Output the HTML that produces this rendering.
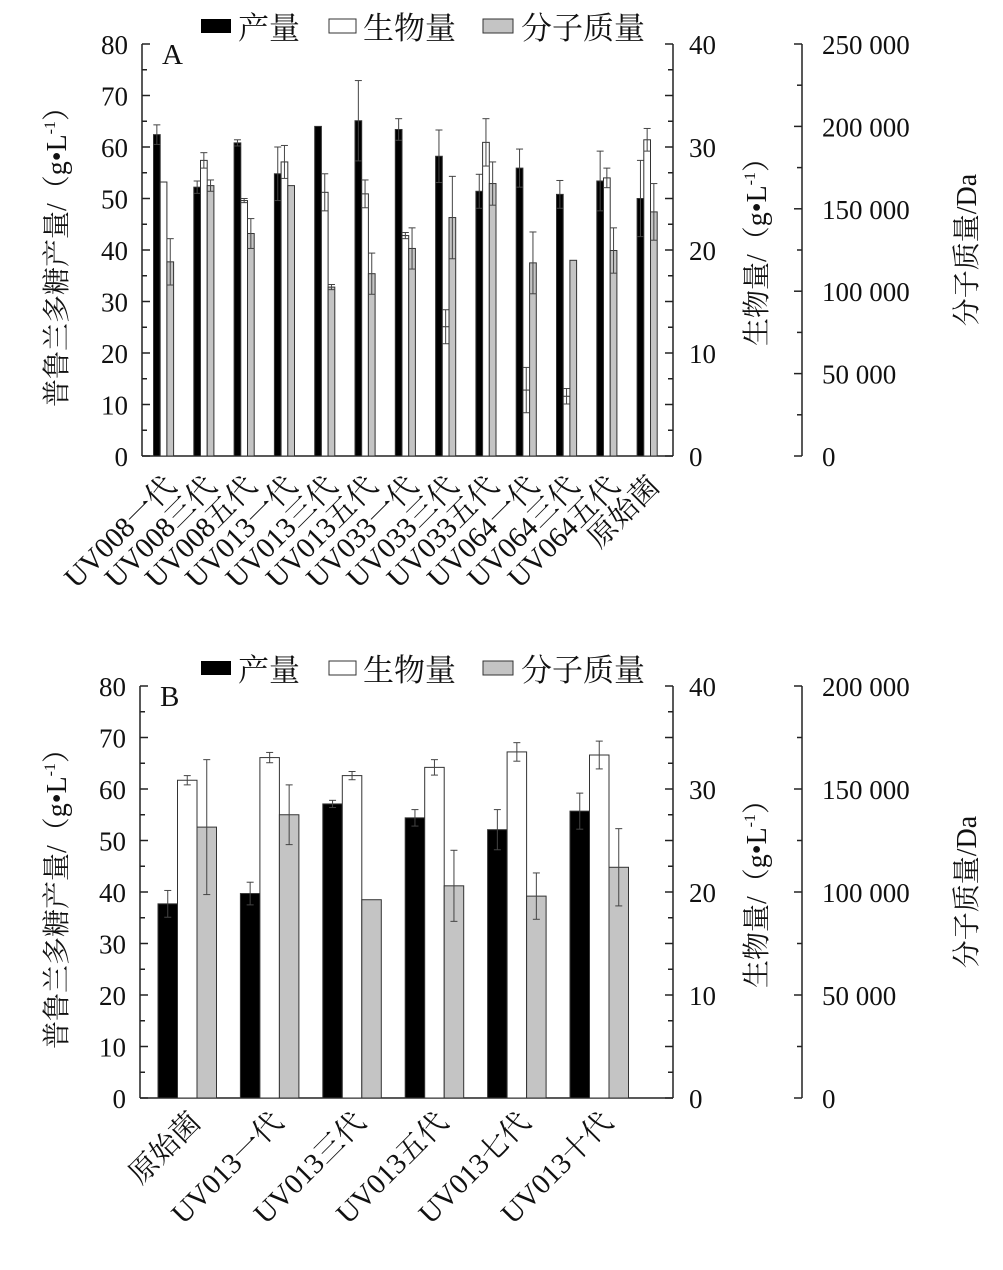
<!DOCTYPE html>
<html><head><meta charset="utf-8"><style>
body{margin:0;background:#fff;}
svg text{font-family:"Liberation Serif","Noto Serif CJK SC",serif;fill:#111;}
</style></head><body>
<svg id="s" width="1003" height="1265" xmlns="http://www.w3.org/2000/svg"></svg>
<script>
const S=document.getElementById('s');let h='';
function panel(o){
 const L=o.L,R=673,T=o.T,B=o.B,k=(B-T)/80;
 const y=v=>B-v*k;
 h+=`<line x1="${L}" y1="${T}" x2="${L}" y2="${B}" stroke="#222" stroke-width="1.5"/>`;
 h+=`<line x1="${R}" y1="${T}" x2="${R}" y2="${B}" stroke="#222" stroke-width="1.5"/>`;
 h+=`<line x1="${L}" y1="${B}" x2="${R}" y2="${B}" stroke="#222" stroke-width="1.5"/>`;
 for(let v=0;v<=80;v+=5){const yy=y(v),len=v%10?5:8;
  h+=`<line x1="${L}" y1="${yy}" x2="${L+len}" y2="${yy}" stroke="#222" stroke-width="1.5"/>`;
  h+=`<line x1="${R}" y1="${yy}" x2="${R-len}" y2="${yy}" stroke="#222" stroke-width="1.5"/>`;
  if(v%10==0){h+=`<text x="${L-14}" y="${yy+10}" font-size="27" text-anchor="end">${v}</text>`;
   if(v%20==0) h+=`<text x="${R+16}" y="${yy+10}" font-size="27">${v/2}</text>`;}
 }
 const M=802;h+=`<line x1="${M}" y1="${T}" x2="${M}" y2="${B}" stroke="#222" stroke-width="1.5"/>`;
 const n=o.mw.length;
 for(let i=0;i<n;i++){const yy=B-(B-T)*i/(n-1);
  h+=`<line x1="${M}" y1="${yy}" x2="${M-8}" y2="${yy}" stroke="#222" stroke-width="1.5"/>`;
  if(i<n-1){const ym=yy-(B-T)/(n-1)/2;h+=`<line x1="${M}" y1="${ym}" x2="${M-5}" y2="${ym}" stroke="#222" stroke-width="1.5"/>`;}
  h+=`<text x="${M+20}" y="${yy+10}" font-size="27">${o.mw[i]}</text>`;}
 o.d.forEach((g,i)=>{const x0=o.x0+i*o.p;
  const cols=['#000','#fff','#c4c4c4'];
  g.forEach((b,j)=>{const x=x0+j*o.w,top=y(b[0]);
   h+=`<rect x="${x}" y="${top}" width="${o.w}" height="${B-top}" fill="${cols[j]}" stroke="#333" stroke-width="1"/>`;
   const e=b[1]-b[0];if(e>0.3){const cx=x+o.w/2,lo=y(Math.max(0,b[0]-e)),hi=y(b[1]);
    h+=`<line x1="${cx}" y1="${hi}" x2="${cx}" y2="${lo}" stroke="#444" stroke-width="1"/>`;
    h+=`<line x1="${cx-3.5}" y1="${hi}" x2="${cx+3.5}" y2="${hi}" stroke="#444" stroke-width="1"/>`;
    h+=`<line x1="${cx-3.5}" y1="${lo}" x2="${cx+3.5}" y2="${lo}" stroke="#444" stroke-width="1"/>`;}
  });
  const cx=x0+1.5*o.w+o.lx;
  h+=`<text transform="translate(${cx},${B+o.ly}) rotate(-45)" font-size="29" text-anchor="end">${o.lab[i]}</text>`;
 });
 const ly=o.T-16;
 h+=`<rect x="201" y="${ly-9}" width="30" height="14" fill="#000"/><text x="238" y="${ly+11}" font-size="31">产量</text>`;
 h+=`<rect x="329" y="${ly-9}" width="27" height="14" fill="#fff" stroke="#333"/><text x="363" y="${ly+11}" font-size="31">生物量</text>`;
 h+=`<rect x="483" y="${ly-9}" width="30" height="14" fill="#c4c4c4" stroke="#333"/><text x="521" y="${ly+11}" font-size="31">分子质量</text>`;
 h+=`<text x="${L+20}" y="${T+20}" font-size="29">${o.tag}</text>`;
 const cy=(T+B)/2;
 h+=`<text transform="translate(66,${cy}) rotate(-90)" font-size="28" text-anchor="middle">普鲁兰多糖产量/（g•L<tspan font-size="16" dy="-11">-1</tspan><tspan dy="11">）</tspan></text>`;
 h+=`<text transform="translate(766,${cy-5}) rotate(-90)" font-size="28" text-anchor="middle">生物量/（g•L<tspan font-size="16" dy="-11">-1</tspan><tspan dy="11">）</tspan></text>`;
 h+=`<text transform="translate(976,${cy}) rotate(-90)" font-size="28" text-anchor="middle">分子质量/Da</text>`;
}
panel({L:142,T:44,B:456,x0:153.5,p:40.3,w:6.7,lx:14,ly:32,tag:'A',mw:['0','50 000','100 000','150 000','200 000','250 000'],
 lab:['UV008一代','UV008三代','UV008五代','UV013一代','UV013三代','UV013五代','UV033一代','UV033三代','UV033五代','UV064一代','UV064三代','UV064五代','原始菌'],
 d:[[[62.4,64.3],[53.2,53.5],[37.7,42.2]],[[52.2,53.4],[57.4,58.9],[52.5,53.6]],[[60.8,61.4],[49.6,50],[43.2,46.1]],[[54.8,60],[57.1,60.3],[52.5,52.8]],
 [[64,64.2],[51.2,54.8],[32.8,33.3]],[[65.1,72.9],[50.9,53.6],[35.4,39.4]],[[63.4,65.5],[42.8,43.4],[40.3,44.3]],[[58.2,63.3],[25.1,28.4],[46.3,54.3]],
 [[51.4,54.7],[60.9,65.5],[52.9,57.1]],[[55.9,59.6],[12.8,17.2],[37.5,43.5]],[[50.8,53.5],[11.6,13.1],[38,38.3]],[[53.4,59.2],[54,55.9],[39.9,44.3]],[[50,57.4],[61.4,63.6],[47.4,52.9]]]});
panel({L:140,T:686,B:1098,x0:158,p:82.4,w:19.5,lx:15,ly:26,tag:'B',mw:['0','50 000','100 000','150 000','200 000'],
 lab:['原始菌','UV013一代','UV013三代','UV013五代','UV013七代','UV013十代'],
 d:[[[37.7,40.3],[61.7,62.6],[52.6,65.7]],[[39.7,41.9],[66.1,67.1],[55,60.8]],[[57.1,57.8],[62.6,63.4],[38.5,38.8]],
 [[54.4,56],[64.2,65.7],[41.2,48.1]],[[52.1,56],[67.2,69],[39.2,43.7]],[[55.7,59.2],[66.6,69.3],[44.8,52.3]]]});
S.innerHTML=h;
</script>
</body></html>
